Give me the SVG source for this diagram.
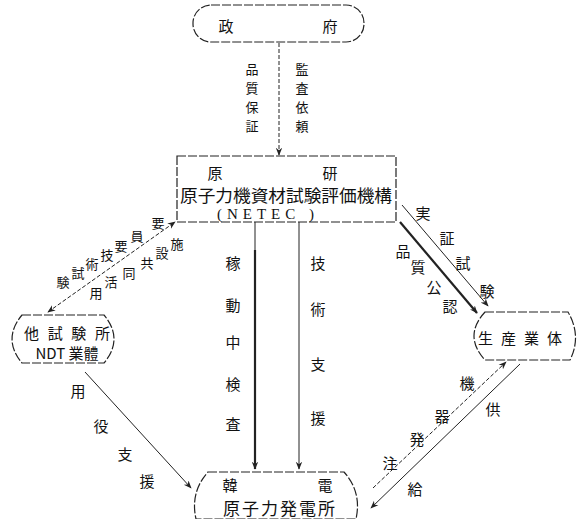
<svg xmlns="http://www.w3.org/2000/svg" width="577" height="519" viewBox="0 0 577 519">
<style>
text{font-family:"Noto Sans CJK JP","Noto Sans CJK SC",sans-serif;fill:#111;font-size:15px;text-anchor:middle;dominant-baseline:central}
.s{font-size:13px}
.n{fill:#fff;stroke:#222;stroke-width:1.2;stroke-dasharray:9 2}
.c{fill:none;stroke:#222;stroke-width:1}
.d{stroke-dasharray:4 2}
.t{stroke-width:2.2}
.big{font-size:17px}
.lat{font-family:"Liberation Serif",serif;font-size:15px;letter-spacing:5px}
</style>
<defs>
<marker id="a" viewBox="0 0 10 10" refX="9" refY="5" markerWidth="8" markerHeight="8" orient="auto-start-reverse" markerUnits="userSpaceOnUse">
<path d="M0,1 L10,5 L0,9 L3,5 Z" fill="#222"/>
</marker>
</defs>
<g id="connectors">
<line class="c d" x1="279" y1="43" x2="279" y2="155" marker-end="url(#a)"/>
<line class="c" x1="255" y1="222" x2="255" y2="250"/>
<line class="c t" x1="255" y1="250" x2="255" y2="469" marker-end="url(#a)"/>
<line class="c" x1="299" y1="222" x2="299" y2="469" marker-end="url(#a)"/>
<line class="c d" x1="48" y1="312" x2="175" y2="222" marker-start="url(#a)" marker-end="url(#a)"/>
<line class="c" x1="402" y1="205" x2="488" y2="306" marker-end="url(#a)"/>
<line class="c t" x1="400" y1="222" x2="477" y2="313" marker-end="url(#a)"/>
<line class="c" x1="85" y1="372" x2="191" y2="488" marker-end="url(#a)"/>
<line class="c d" x1="373" y1="488" x2="506" y2="362" marker-end="url(#a)"/>
<line class="c" x1="520" y1="364" x2="371" y2="508" marker-end="url(#a)"/>
<g id="conn-labels">
<text class="s" x="252" y="68">品</text><text class="s" x="252" y="87">質</text><text class="s" x="252" y="106">保</text><text class="s" x="252" y="125">証</text>
<text class="s" x="302" y="68">監</text><text class="s" x="302" y="87">査</text><text class="s" x="302" y="106">依</text><text class="s" x="302" y="125">頼</text>
<text x="233" y="262">稼</text><text x="233" y="304">動</text><text x="233" y="341">中</text><text x="233" y="383">検</text><text x="233" y="423">査</text>
<text x="318" y="262">技</text><text x="318" y="308">術</text><text x="318" y="363">支</text><text x="318" y="417">援</text>
<text x="423" y="212">実</text><text x="447" y="237">証</text><text x="463" y="262">試</text><text x="487" y="290">験</text>
<text x="403" y="250">品</text><text x="418" y="266">質</text><text x="434" y="286">公</text><text x="450" y="305">認</text>
<text class="s" x="158" y="222">要</text><text class="s" x="137" y="235">員</text><text class="s" x="121" y="245">要</text><text class="s" x="107" y="254">技</text><text class="s" x="92" y="263">術</text><text class="s" x="78" y="272">試</text><text class="s" x="63" y="281">験</text>
<text class="s" x="177" y="243">施</text><text class="s" x="162" y="252">設</text><text class="s" x="147" y="262">共</text><text class="s" x="129" y="272">同</text><text class="s" x="111" y="281">活</text><text class="s" x="96" y="292">用</text>
<text x="78" y="390">用</text><text x="101" y="425">役</text><text x="125" y="453">支</text><text x="147" y="480">援</text>
<text x="467" y="382">機</text><text x="442" y="415">器</text><text x="417" y="438">発</text><text x="390" y="462">注</text>
<text x="493" y="408">供</text><text x="415" y="488">給</text>
</g>
</g>
<g id="node-gov">
<rect class="n" x="193" y="5" width="171" height="37" rx="18"/>
<text x="226" y="25">政</text><text x="330" y="25">府</text>
</g>
<g id="node-netec">
<rect class="n" x="177" y="156" width="219" height="66"/>
<text x="215" y="172">原</text><text x="330" y="172">研</text>
<text x="286" y="194" class="big" textLength="212" lengthAdjust="spacingAndGlyphs">原子力機資材試験評価機構</text>
<text x="268" y="214" class="lat">(NETEC )</text>
</g>
<g id="node-lab">
<path class="n" d="M22,315 H104 Q124,339 104,363 H22 Q2,339 22,315 Z"/>
<text x="67" y="332" textLength="86" lengthAdjust="spacing">他試験所</text>
<text x="67" y="352" font-size="13">NDT 業體</text>
</g>
<g id="node-maker">
<path class="n" d="M485,312 H568 Q582,336 570,360 H485 Q463,336 485,312 Z"/>
<text x="520" y="337" textLength="84" lengthAdjust="spacing">生産業体</text>
</g>
<g id="node-plant">
<path class="n" d="M208,472 H344 Q362,492 356,519 H196 Q190,492 208,472 Z"/>
<text x="230" y="484">韓</text><text x="325" y="484">電</text>
<text x="279" y="507" class="big" textLength="112" lengthAdjust="spacing">原子力発電所</text>
</g>
</svg>
